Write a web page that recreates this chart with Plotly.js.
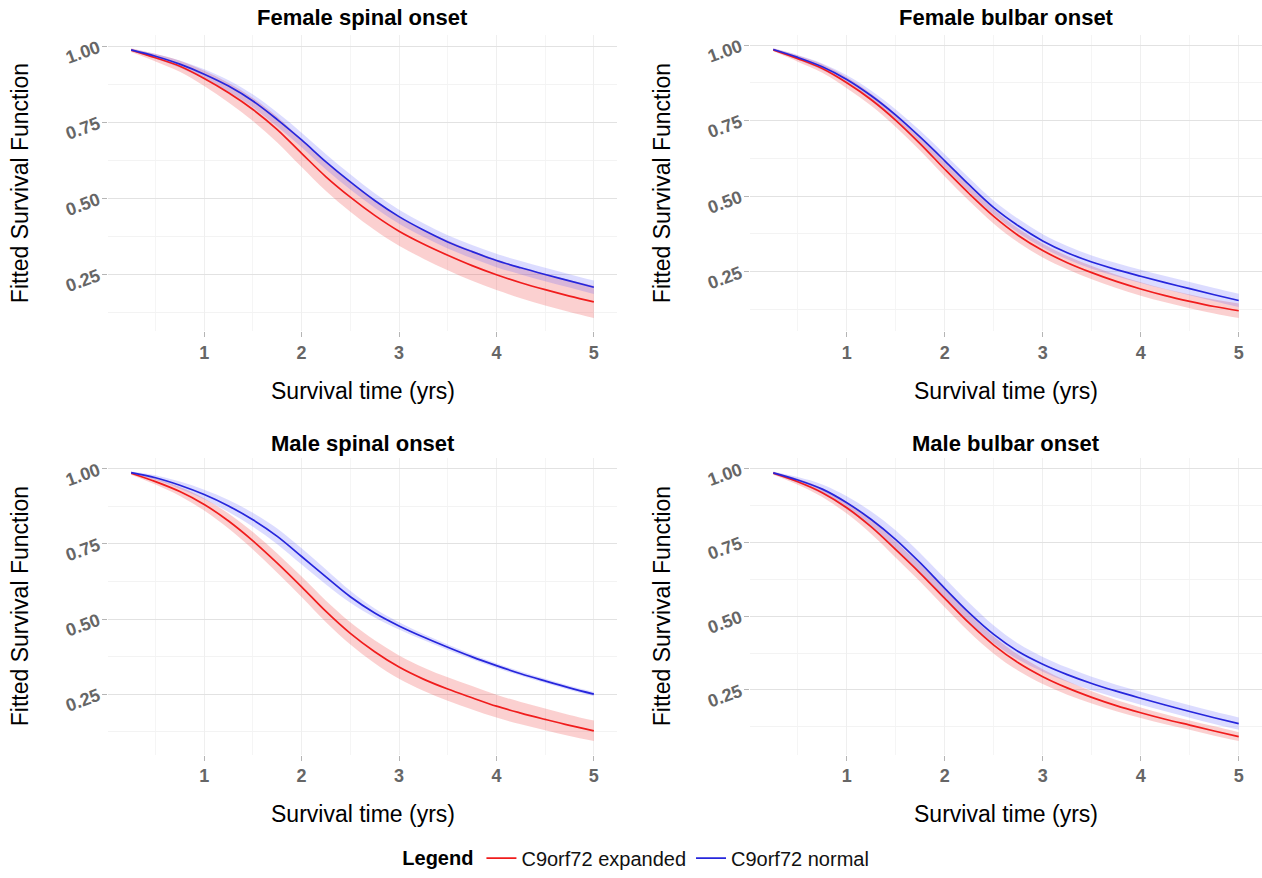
<!DOCTYPE html>
<html>
<head>
<meta charset="utf-8">
<script src="https://cdn.plot.ly/plotly-3.0.1.min.js"></script>
<style>html,body{margin:0;padding:0;background:#fff;}#chart{width:1262px;height:878px;}</style>
</head>
<body>
<div id="chart"></div>
<script>
// Survival time (yrs)
const years = [0.25,0.5,0.75,1,1.25,1.5,1.75,2,2.25,2.5,2.75,3,3.25,3.5,3.75,4,4.25,4.5,4.75,5];

const panelTitles = ['Female spinal onset','Female bulbar onset','Male spinal onset','Male bulbar onset'];
const seriesNames = ['C9orf72 expanded','C9orf72 normal'];

// Female spinal onset
const fsExpanded   = [.987,.962,.934,.894,.847,.792,.726,.648,.571,.504,.444,.392,.350,.313,.279,.249,.223,.200,.179,.160];
const fsExpandedLo = [.981,.950,.916,.869,.815,.754,.684,.603,.524,.456,.396,.344,.302,.264,.229,.199,.172,.148,.127,.107];
const fsExpandedHi = [.993,.974,.952,.919,.879,.830,.768,.693,.618,.552,.492,.440,.398,.362,.329,.299,.274,.252,.231,.213];
const fsNormal     = [.988,.967,.941,.908,.869,.820,.759,.692,.620,.554,.493,.440,.396,.357,.325,.296,.272,.250,.229,.208];
const fsNormalLo   = [.984,.959,.929,.892,.850,.799,.736,.668,.595,.529,.469,.417,.374,.335,.303,.274,.250,.228,.207,.186];
const fsNormalHi   = [.992,.975,.953,.924,.888,.841,.782,.716,.645,.579,.517,.463,.418,.379,.347,.318,.294,.272,.251,.230];

// Female bulbar onset
const fbExpanded   = [.984,.955,.922,.875,.819,.751,.673,.589,.508,.433,.370,.320,.280,.247,.218,.193,.171,.152,.135,.121];
const fbExpandedLo = [.979,.945,.908,.857,.799,.729,.650,.565,.484,.409,.347,.297,.258,.225,.196,.171,.149,.129,.112,.097];
const fbExpandedHi = [.989,.965,.936,.893,.839,.773,.696,.613,.532,.457,.393,.343,.302,.269,.240,.215,.193,.175,.158,.145];
const fbNormal     = [.985,.959,.928,.886,.832,.768,.695,.617,.537,.462,.402,.352,.313,.282,.257,.235,.214,.194,.174,.155];
const fbNormalLo   = [.981,.951,.917,.872,.815,.749,.674,.595,.514,.439,.379,.330,.291,.260,.235,.213,.192,.172,.152,.133];
const fbNormalHi   = [.989,.967,.939,.900,.849,.787,.716,.639,.560,.485,.425,.374,.335,.304,.279,.257,.236,.216,.196,.177];

// Male spinal onset
const msExpanded   = [.985,.957,.924,.881,.826,.760,.686,.607,.525,.452,.391,.340,.300,.267,.238,.210,.187,.166,.146,.128];
const msExpandedLo = [.980,.947,.909,.861,.801,.731,.654,.573,.489,.415,.353,.301,.261,.228,.199,.172,.150,.130,.111,.094];
const msExpandedHi = [.990,.967,.939,.901,.851,.789,.718,.641,.561,.489,.429,.379,.339,.306,.277,.248,.224,.202,.181,.162];
const msNormal     = [.987,.970,.945,.914,.876,.830,.775,.708,.640,.574,.520,.477,.440,.406,.374,.345,.318,.294,.271,.250];
const msNormalLo   = [.983,.962,.933,.898,.856,.807,.749,.681,.615,.554,.505,.465,.430,.397,.366,.337,.311,.287,.264,.243];
const msNormalHi   = [.991,.978,.957,.930,.896,.853,.801,.735,.665,.594,.535,.489,.450,.415,.382,.353,.325,.301,.278,.257];

// Male bulbar onset
const mbExpanded   = [.984,.955,.918,.867,.802,.725,.645,.560,.476,.402,.342,.295,.257,.225,.197,.173,.151,.131,.111,.092];
const mbExpandedLo = [.979,.945,.903,.847,.778,.698,.616,.530,.446,.373,.315,.270,.234,.204,.178,.155,.134,.115,.095,.077];
const mbExpandedHi = [.989,.965,.933,.887,.826,.752,.674,.590,.506,.431,.369,.320,.280,.246,.216,.191,.168,.147,.127,.107];
const mbNormal     = [.985,.961,.930,.884,.827,.759,.680,.594,.511,.438,.380,.337,.302,.272,.246,.222,.199,.177,.156,.136];
const mbNormalLo   = [.980,.951,.914,.862,.800,.728,.647,.560,.478,.408,.353,.312,.278,.249,.224,.200,.178,.156,.135,.115];
const mbNormalHi   = [.990,.971,.946,.906,.854,.790,.713,.628,.544,.468,.407,.362,.326,.295,.268,.244,.220,.198,.177,.157];

const panels = [
  {exp:[fsExpanded,fsExpandedLo,fsExpandedHi], nor:[fsNormal,fsNormalLo,fsNormalHi]},
  {exp:[fbExpanded,fbExpandedLo,fbExpandedHi], nor:[fbNormal,fbNormalLo,fbNormalHi]},
  {exp:[msExpanded,msExpandedLo,msExpandedHi], nor:[msNormal,msNormalLo,msNormalHi]},
  {exp:[mbExpanded,mbExpandedLo,mbExpandedHi], nor:[mbNormal,mbNormalLo,mbNormalHi]}
];

const FONT = 'Liberation Sans, Arial, Helvetica, sans-serif';
const RED = '#f01c1c', BLUE = '#2626dc';
const RED_FILL = 'rgba(240,60,60,0.24)', BLUE_FILL = 'rgba(70,70,255,0.19)';

const W = 1262, H = 878;
// plot-area pixel boxes [left, right, top, bottom, titleOffset]
const boxes = [[108,617,35,333,17],[750,1262,35,333,17],[108,617,460,758,14],[750,1262,460,758,14]];

const traces = [];
const layout = {
  width: W, height: H,
  margin: {l:0, r:0, t:0, b:0},
  paper_bgcolor: '#fff', plot_bgcolor: '#fff',
  font: {family: FONT, color: '#000'},
  showlegend: true,
  legend: {
    orientation: 'h', x: 0.505, xanchor: 'center', y: 1 - 862/H, yanchor: 'middle',
    font: {size: 20, family: FONT, color: '#111'},
    title: {text: '<b>Legend</b>', side: 'left', font: {size: 20, family: FONT, color: '#000'}},
    itemwidth: 30, tracegroupgap: 0, bgcolor: 'rgba(0,0,0,0)'
  },
  annotations: []
};

panels.forEach((p, i) => {
  const n = i + 1;
  const xa = n === 1 ? 'x' : 'x' + n;
  const ya = n === 1 ? 'y' : 'y' + n;
  const bands = [[p.exp, RED_FILL], [p.nor, BLUE_FILL]];
  bands.forEach(([s, fillc]) => {
    traces.push({x: years, y: s[1], xaxis: xa, yaxis: ya, mode: 'lines', line: {width: 0, shape: 'spline', color: fillc}, showlegend: false, hoverinfo: 'skip'});
    traces.push({x: years, y: s[2], xaxis: xa, yaxis: ya, mode: 'lines', fill: 'tonexty', fillcolor: fillc, line: {width: 0, shape: 'spline', color: fillc}, showlegend: false, hoverinfo: 'skip'});
  });
  [[p.exp, RED, seriesNames[0]], [p.nor, BLUE, seriesNames[1]]].forEach(([s, col, name]) => {
    traces.push({x: years, y: s[0], xaxis: xa, yaxis: ya, mode: 'lines', name: name, legendgroup: name,
      line: {color: col, width: 1.7, shape: 'spline'}, showlegend: i === 0});
  });

  const lo = Math.min(...p.exp[1], ...p.nor[1]);
  const hi = Math.max(...p.exp[2], ...p.nor[2]);
  const pad = (hi - lo) * 0.05;
  const b = boxes[i];
  const xKey = n === 1 ? 'xaxis' : 'xaxis' + n;
  const yKey = n === 1 ? 'yaxis' : 'yaxis' + n;
  layout[xKey] = {
    domain: [b[0] / W, b[1] / W], anchor: ya,
    range: [0.0125, 5.2375], dtick: 1, tick0: 0,
    showgrid: true, gridcolor: '#efefef', gridwidth: 1,
    minor: {dtick: 0.5, showgrid: true, gridcolor: '#f5f5f5', gridwidth: 1, ticks: ''},
    zeroline: false, showline: false,
    ticks: 'outside', ticklen: 5, tickcolor: '#b5b5b5', tickwidth: 1,
    tickfont: {size: 18, color: '#666', family: FONT, weight: 700}
  };
  layout[yKey] = {
    domain: [1 - b[3] / H, 1 - b[2] / H], anchor: xa,
    range: [lo - pad, hi + pad], dtick: 0.25, tick0: 0, tickformat: '.2f',
    showgrid: true, gridcolor: '#e2e2e2', gridwidth: 1,
    minor: {dtick: 0.125, showgrid: true, gridcolor: '#f3f3f3', gridwidth: 1, ticks: ''},
    zeroline: false, showline: false,
    ticks: 'outside', ticklen: 5, tickcolor: '#b5b5b5', tickwidth: 1,
    tickangle: -20,
    tickfont: {size: 18, color: '#666', family: FONT, weight: 700}
  };
  const cx = (b[0] + b[1]) / 2 / W;
  layout.annotations.push({text: '<b>' + panelTitles[i] + '</b>', xref: 'paper', yref: 'paper',
    x: cx, y: 1 - (b[2] - b[4]) / H, xanchor: 'center', yanchor: 'middle', showarrow: false,
    font: {size: 22, family: FONT, color: '#000'}});
  layout.annotations.push({text: 'Survival time (yrs)', xref: 'paper', yref: 'paper',
    x: cx, y: 1 - (b[3] + 60) / H, xanchor: 'center', yanchor: 'middle', showarrow: false,
    font: {size: 23, family: FONT, color: '#000'}});
  layout.annotations.push({text: 'Fitted Survival Function', xref: 'paper', yref: 'paper',
    x: (b[0] - 88) / W, y: 1 - (b[2] + b[3]) / 2 / H, xanchor: 'center', yanchor: 'middle', showarrow: false,
    textangle: -90, font: {size: 23, family: FONT, color: '#000'}});
});

Plotly.newPlot('chart', traces, layout, {displayModeBar: false, staticPlot: true});
</script>
</body>
</html>
